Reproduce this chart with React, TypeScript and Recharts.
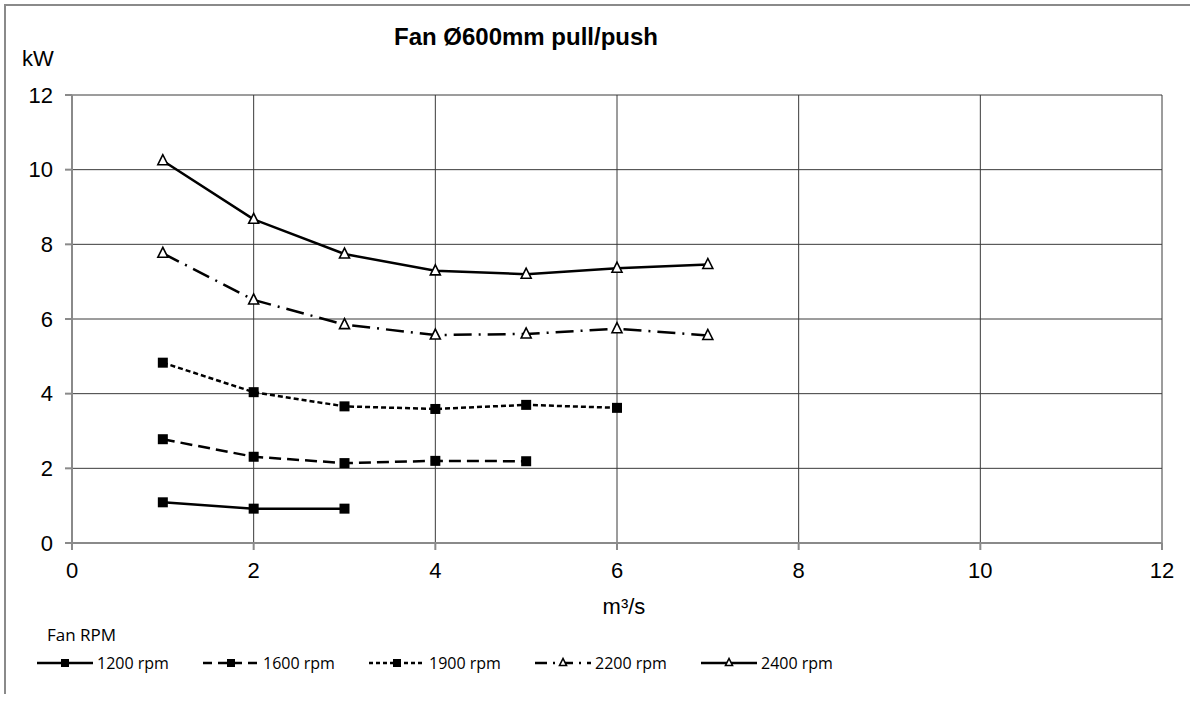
import React from "react";
import { LineChart, Line, XAxis, YAxis, CartesianGrid } from "recharts";

// flow rate (m³/s) and absorbed power (kW) per fan speed
const flowRates = [1, 2, 3, 4, 5, 6, 7];
const rpm1200 = [1.09, 0.92, 0.92];
const rpm1600 = [2.78, 2.31, 2.14, 2.2, 2.19];
const rpm1900 = [4.83, 4.04, 3.66, 3.59, 3.7, 3.62];
const rpm2200 = [7.76, 6.51, 5.85, 5.57, 5.6, 5.74, 5.56];
const rpm2400 = [10.24, 8.67, 7.74, 7.29, 7.2, 7.36, 7.46];
const axisTicks = [0, 2, 4, 6, 8, 10, 12];

type Marker = "square" | "triangle";
const SERIES: { key: string; name: string; values: number[]; dash?: string; legendDash?: string; marker: Marker }[] = [
  { key: "r1200", name: "1200 rpm", values: rpm1200, marker: "square" },
  { key: "r1600", name: "1600 rpm", values: rpm1600, dash: "12 6", legendDash: "9 6", marker: "square" },
  { key: "r1900", name: "1900 rpm", values: rpm1900, dash: "5 3", legendDash: "4 3", marker: "square" },
  { key: "r2200", name: "2200 rpm", values: rpm2200, dash: "18 7 2 7", legendDash: "12 6 2 6", marker: "triangle" },
  { key: "r2400", name: "2400 rpm", values: rpm2400, marker: "triangle" },
];

const data = flowRates.map((x, i) => {
  const row: Record<string, number | undefined> = { x };
  SERIES.forEach((s) => { row[s.key] = s.values[i]; });
  return row;
});

const FONT = "'Liberation Sans', Arial, sans-serif";

function MarkerShape({ cx, cy, kind, size }: { cx: number; cy: number; kind: Marker; size: number }) {
  if (kind === "square") {
    return <rect x={cx - size / 2} y={cy - size / 2} width={size} height={size} fill="#000" />;
  }
  const h = size;
  return (
    <polygon
      points={`${cx},${cy - h / 2 - 1} ${cx - h / 2},${cy + h / 2 - 1} ${cx + h / 2},${cy + h / 2 - 1}`}
      fill="#fff"
      stroke="#000"
      strokeWidth={1.6}
    />
  );
}

function makeDot(kind: Marker) {
  return (props: { cx?: number; cy?: number; index?: number; value?: unknown }) => {
    const { cx, cy, index } = props;
    if (cx == null || cy == null || props.value == null) return <g key={index} />;
    return <g key={index}><MarkerShape cx={cx} cy={cy} kind={kind} size={10} /></g>;
  };
}

export default function App() {
  return (
    <div style={{ position: "absolute", left: 0, top: 0, width: 1190, height: 702, background: "#fff" }}>
      <div style={{ position: "absolute", left: 4, top: 4, width: 1186, height: 688, borderTop: "2px solid #8a8a8a", borderLeft: "2px solid #8a8a8a" }} />
      <div style={{ position: "absolute", left: 0, width: 1052, top: 23, textAlign: "center", fontFamily: FONT, fontWeight: 700, fontSize: 24, lineHeight: 1.15 }}>
        Fan Ø600mm pull/push
      </div>
      <div style={{ position: "absolute", left: 22, top: 46, fontFamily: FONT, fontSize: 22, lineHeight: 1.15 }}>kW</div>
      <div style={{ position: "absolute", left: 0, width: 1248, top: 594, textAlign: "center", fontFamily: FONT, fontSize: 22, lineHeight: 1.15 }}>m³/s</div>

      <div style={{ position: "absolute", left: 0, top: 0 }}>
        <LineChart width={1190} height={702} data={data} margin={{ top: 95, right: 28, left: 0, bottom: 129 }}>
          <CartesianGrid stroke="#3a3a3a" strokeWidth={1} />
          <XAxis
            dataKey="x"
            type="number"
            domain={[0, 12]}
            ticks={axisTicks}
            height={30}
            stroke="#8a8a8a"
            strokeWidth={2}
            tickSize={7}
            tickMargin={12}
            tick={{ fill: "#000", fontSize: 22, fontFamily: FONT }}
          />
          <YAxis
            type="number"
            domain={[0, 12]}
            ticks={axisTicks}
            width={72}
            stroke="#8a8a8a"
            strokeWidth={2}
            tickSize={7}
            tickMargin={12}
            tick={{ fill: "#000", fontSize: 22, fontFamily: FONT }}
          />
          {SERIES.map((s) => (
            <Line
              key={s.key}
              dataKey={s.key}
              type="linear"
              stroke="#000"
              strokeWidth={2.5}
              strokeDasharray={s.dash}
              dot={makeDot(s.marker)}
              activeDot={false}
              isAnimationActive={false}
            />
          ))}
        </LineChart>
      </div>

      <div style={{ position: "absolute", left: 47, top: 623, fontFamily: "'Open Sans', sans-serif", fontSize: 17 }}>Fan RPM</div>
      <div style={{ position: "absolute", left: 37, top: 652, display: "flex", fontFamily: "'Open Sans', sans-serif", fontSize: 16 }}>
        {SERIES.map((s) => (
          <div key={s.key} style={{ display: "flex", alignItems: "center", width: 166 }}>
            <svg width={58} height={20}>
              <line x1={0} y1={10} x2={56} y2={10} stroke="#000" strokeWidth={2.5} strokeDasharray={s.legendDash} />
              <MarkerShape cx={28} cy={10} kind={s.marker} size={s.marker === "square" ? 8 : 7} />
            </svg>
            <span style={{ marginLeft: 2 }}>{s.name}</span>
          </div>
        ))}
      </div>
    </div>
  );
}
